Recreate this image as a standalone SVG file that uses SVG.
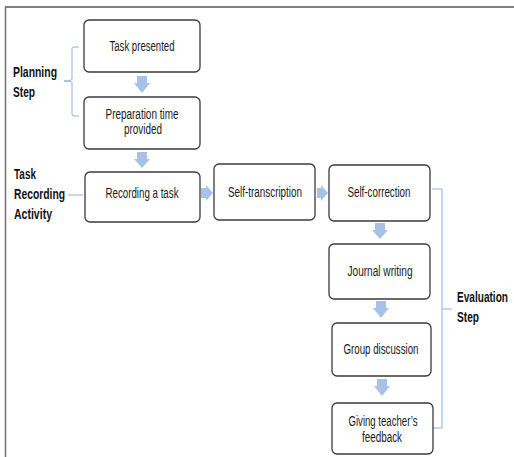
<svg xmlns="http://www.w3.org/2000/svg" width="514" height="457" viewBox="0 0 514 457">
<style>
.box{fill:#fff;stroke:#3a3a3a;stroke-width:1.3}
.t{font-family:"Liberation Sans Narrow","Liberation Sans",Arial,sans-serif;font-size:14px;fill:#1a1a1a;text-anchor:middle}
.b{font-family:"Liberation Sans Narrow","Liberation Sans",Arial,sans-serif;font-size:15.5px;font-weight:bold;fill:#111}
.br{fill:none;stroke:#8db2e0;stroke-width:1}
.ar{fill:#a7c2e6}
</style>
<rect width="514" height="457" fill="#fff"/>
<g id="frame">
<line x1="5" y1="7" x2="514" y2="7" stroke="#555" stroke-width="1.6"/>
<line x1="5.5" y1="7" x2="5.5" y2="457" stroke="#777" stroke-width="1.6"/>
</g>
<g id="connectors">
<path class="ar" d="M137,76H147V83H150L142,93L134,83H137Z"/>
<path class="ar" d="M137,152H147V159H150L142,168L134,159H137Z"/>
<path class="ar" d="M375,223H385V230H388L380,239L372,230H375Z"/>
<path class="ar" d="M376,301H386V308H389L381,318L373,308H376Z"/>
<path class="ar" d="M377,379H387V386H390L382,396L374,386H377Z"/>
<path class="ar" d="M201,188H206V185L213,193L206,201V198H201Z"/>
<path class="ar" d="M317,188H321V185L328,193L321,201V198H317Z"/>
<path class="br" d="M79,47H74Q72,47 72,49V79Q72,81 64,81Q72,81 72,83V114Q72,116 74,116H79"/>
<path class="br" d="M68,195H83"/>
<path class="br" d="M432,189H442V428H433M442,309H452"/>
</g>
<g id="planning-label"><text class="b" x="13" y="77" textLength="44" lengthAdjust="spacingAndGlyphs">Planning</text><text class="b" x="13" y="97" textLength="22" lengthAdjust="spacingAndGlyphs">Step</text></g>
<g id="recording-label"><text class="b" x="14" y="179" textLength="22" lengthAdjust="spacingAndGlyphs">Task</text><text class="b" x="14" y="199" textLength="51" lengthAdjust="spacingAndGlyphs">Recording</text><text class="b" x="14" y="219" textLength="38" lengthAdjust="spacingAndGlyphs">Activity</text></g>
<g id="evaluation-label"><text class="b" x="457" y="302" textLength="51" lengthAdjust="spacingAndGlyphs">Evaluation</text><text class="b" x="457" y="322" textLength="22" lengthAdjust="spacingAndGlyphs">Step</text></g>
<g id="task-presented"><rect class="box" x="84" y="20" width="116" height="52" rx="5"/><text class="t" x="142" y="51" textLength="65" lengthAdjust="spacingAndGlyphs">Task presented</text></g>
<g id="preparation"><rect class="box" x="84" y="97" width="116" height="52" rx="5"/><text class="t" x="142" y="119" textLength="73" lengthAdjust="spacingAndGlyphs">Preparation time</text><text class="t" x="143" y="134" textLength="38" lengthAdjust="spacingAndGlyphs">provided</text></g>
<g id="recording"><rect class="box" x="85" y="172" width="115" height="50" rx="5"/><text class="t" x="142" y="198" textLength="73" lengthAdjust="spacingAndGlyphs">Recording a task</text></g>
<g id="self-transcription"><rect class="box" x="214" y="164" width="101" height="56" rx="5"/><text class="t" x="265" y="197" textLength="74" lengthAdjust="spacingAndGlyphs">Self-transcription</text></g>
<g id="self-correction"><rect class="box" x="329" y="165" width="101" height="56" rx="5"/><text class="t" x="379" y="197" textLength="63" lengthAdjust="spacingAndGlyphs">Self-correction</text></g>
<g id="journal"><rect class="box" x="329" y="244" width="101" height="55" rx="5"/><text class="t" x="380" y="276" textLength="65" lengthAdjust="spacingAndGlyphs">Journal writing</text></g>
<g id="group"><rect class="box" x="332" y="323" width="99" height="53" rx="5"/><text class="t" x="381" y="354" textLength="75" lengthAdjust="spacingAndGlyphs">Group discussion</text></g>
<g id="feedback"><rect class="box" x="332" y="403" width="101" height="51" rx="5"/><text class="t" x="383" y="426" textLength="69" lengthAdjust="spacingAndGlyphs">Giving teacher’s</text><text class="t" x="382" y="442" textLength="40" lengthAdjust="spacingAndGlyphs">feedback</text></g>
</svg>
